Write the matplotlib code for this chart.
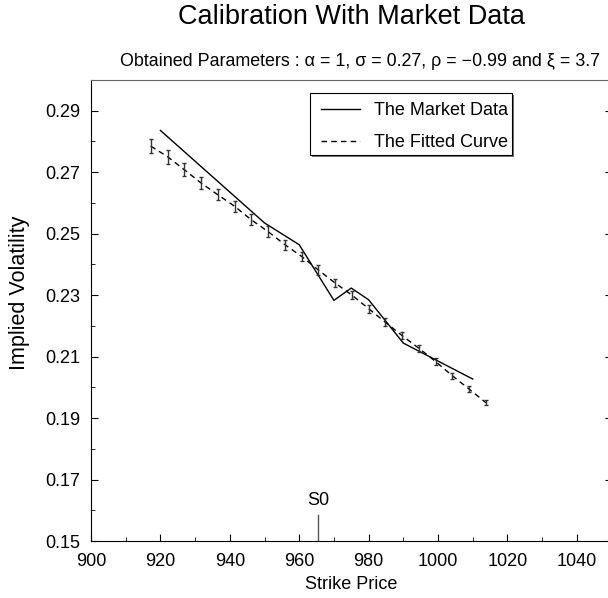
import matplotlib
matplotlib.use("Agg")
import matplotlib.pyplot as plt
from matplotlib.patches import Rectangle

plt.rcParams['font.family'] = ['Liberation Sans', 'DejaVu Sans']

# spot and data
s0 = 965.5

market_strike = [920, 950, 960, 970, 975, 980, 990, 1010]
market_vol = [0.2836, 0.2535, 0.2464, 0.2283, 0.2323, 0.2285, 0.2144, 0.2027]

fit_strike = [917.2, 922.1, 926.9, 931.7, 936.5, 941.4, 946.2, 951.0, 955.9, 960.7, 965.5,
              970.3, 975.2, 980.0, 984.8, 989.7, 994.5, 999.3, 1004.1, 1009.0, 1013.8]
fit_vol = [0.2785, 0.2750, 0.2708, 0.2665, 0.2627, 0.2589, 0.2545, 0.2507, 0.2464, 0.2426, 0.2382,
           0.2340, 0.2300, 0.2256, 0.2212, 0.2168, 0.2127, 0.2084, 0.2038, 0.1994, 0.1950]
fit_err = [0.0023, 0.0022, 0.0021, 0.0020, 0.0019, 0.0018, 0.0018, 0.0017, 0.0016, 0.0015, 0.0015,
           0.0014, 0.0013, 0.0013, 0.0012, 0.0011, 0.0011, 0.0010, 0.0010, 0.0009, 0.0008]

x_ticks = [900, 920, 940, 960, 980, 1000, 1020, 1040]
y_ticks = [0.15, 0.17, 0.19, 0.21, 0.23, 0.25, 0.27, 0.29]

W, H = 608, 598
fig = plt.figure(figsize=(W / 100, H / 100), dpi=100)
ax_l, ax_r, ax_t, ax_b = 91, 611.5, 80, 541
ax = fig.add_axes([ax_l / W, (H - ax_b) / H, (ax_r - ax_l) / W, (ax_b - ax_t) / H])

def afrac(px, py):
    # pixel position -> axes fraction
    return (px - ax_l) / (ax_r - ax_l), (ax_b - py) / (ax_b - ax_t)

ax.plot(market_strike, market_vol, color='black', lw=1.0, label='The Market Data')
ax.plot(fit_strike, fit_vol, color='black', lw=1.0, ls=(0, (4, 3)), label='The Fitted Curve')
ax.errorbar(fit_strike, fit_vol, yerr=fit_err, fmt='none', ecolor='#333333',
            elinewidth=1.0, capsize=1.6, capthick=1.0)

# S0 marker
ax.plot([s0, s0], [0.15, 0.1585], color='#555555', lw=1.0)
ax.text(s0, 0.1605, 'S0', ha='center', va='bottom', fontsize=13)

ax.set_xlim(900, 1050)
ax.set_ylim(0.15, 0.30)
ax.set_xticks(x_ticks)
ax.set_xticks([910, 930, 950, 970, 990, 1010, 1030, 1050], minor=True)
ax.set_yticks(y_ticks)
ax.set_yticks([0.16, 0.18, 0.20, 0.22, 0.24, 0.26, 0.28, 0.30], minor=True)
ax.set_xticklabels([str(v) for v in x_ticks])
ax.set_yticklabels(['%.2f' % v for v in y_ticks])
ax.tick_params(which='both', direction='in', right=True, top=False, labelsize=13)
ax.tick_params(axis='x', which='major', pad=9)
ax.tick_params(axis='y', which='major', pad=8)
ax.tick_params(which='major', length=5, width=0.8)
ax.tick_params(which='minor', length=3, width=0.6)
ax.spines['top'].set_color('#666666')

ax.set_xlabel('Strike Price', fontsize=13, labelpad=4)
ax.set_ylabel('Implied Volatility', fontsize=15.5)
ax.yaxis.set_label_coords(30 / W, 1 - 293 / H, transform=fig.transFigure)

fig.text(351 / W, 1 - 17 / H, 'Calibration With Market Data', ha='center', va='center', fontsize=19.5)
fig.text(359.5 / W, 1 - 61 / H,
         'Obtained Parameters : \u03b1 = 1, \u03c3 = 0.27, \u03c1 = \u22120.99 and \u03be = 3.7',
         ha='center', va='center', fontsize=12.9)

# legend box with a thin grey shadow, entries drawn by the legend itself
x0, y1 = afrac(310, 154.5)
x1, y0 = afrac(512, 93)
sx, sy = afrac(312, 156.5)
ax.add_patch(Rectangle((sx, sy), x1 - x0, y0 - y1, transform=ax.transAxes,
                       facecolor='#777777', edgecolor='none', zorder=4))
ax.add_patch(Rectangle((x0, y1), x1 - x0, y0 - y1, transform=ax.transAxes,
                       facecolor='white', edgecolor='black', lw=0.8, zorder=5))
lx, ly = afrac(320.5, 102)
leg = ax.legend(loc='upper left', bbox_to_anchor=(lx, ly), fontsize=13,
                frameon=False, handlelength=2.2, borderpad=0, borderaxespad=0,
                labelspacing=0.85, handletextpad=0.75)
leg.set_zorder(6)

fig.savefig('out.png', dpi=100)
